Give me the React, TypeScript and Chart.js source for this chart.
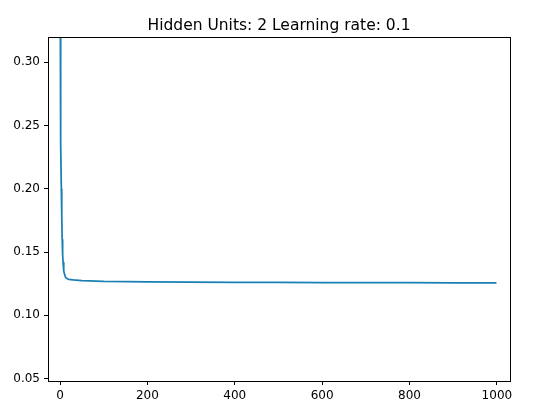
import React, { useEffect, useRef } from "react";
import { Chart, registerables } from "chart.js";

Chart.register(...registerables);

const titleText = "Hidden Units: 2 Learning rate: 0.1";
const epochs = [0, 1, 2, 3, 4, 5, 6, 7, 8, 9, 10, 12, 14, 17, 20, 30, 50, 100, 200, 300, 400, 500, 600, 700, 800, 900, 999];
const loss = [0.42, 0.29, 0.235, 0.2, 0.178, 0.16, 0.148, 0.142, 0.138, 0.135, 0.133, 0.1305, 0.1295, 0.1288, 0.1284, 0.1279, 0.1274, 0.1268, 0.1264, 0.1262, 0.126, 0.1259, 0.1258, 0.1257, 0.1257, 0.1256, 0.1256];
const yTicks = [0.05, 0.1, 0.15, 0.2, 0.25, 0.3];
const xTicks = [0, 200, 400, 600, 800, 1000];

const FONT = "'DejaVu Sans', sans-serif";

export default function App() {
  const ref = useRef<HTMLCanvasElement | null>(null);
  useEffect(() => {
    if (!ref.current) return;
    const framePlugin = {
      id: "frame",
      afterDraw(chart: any) {
        const { ctx, chartArea } = chart;
        ctx.save();
        ctx.strokeStyle = "#000";
        ctx.lineWidth = 1;
        ctx.strokeRect(
          Math.round(chartArea.left) + 0.5,
          Math.round(chartArea.top) + 0.5,
          Math.round(chartArea.right - chartArea.left),
          Math.round(chartArea.bottom - chartArea.top)
        );
        ctx.fillStyle = "#000";
        ctx.font = `15.5px ${FONT}`;
        ctx.textAlign = "center";
        ctx.textBaseline = "alphabetic";
        ctx.fillText(titleText, (chartArea.left + chartArea.right) / 2, 29.5);
        ctx.restore();
      },
    };
    const chart = new Chart(ref.current, {
      type: "line",
      data: {
        datasets: [
          {
            data: epochs.map((e, i) => ({ x: e, y: loss[i] })),
            borderColor: "#1a80b4",
            borderWidth: 1.75,
            pointRadius: 0,
            tension: 0,
            fill: false,
            clip: 0,
          },
        ],
      },
      options: {
        animation: false,
        responsive: false,
        layout: { padding: { top: 37, right: 30, left: 0, bottom: 0 } },
        plugins: { legend: { display: false }, tooltip: { enabled: false }, title: { display: false } },
        scales: {
          x: {
            type: "linear",
            min: -27.5,
            max: 1030,
            afterBuildTicks: (s: any) => {
              s.ticks = xTicks.map((v) => ({ value: v }));
            },
            afterFit: (s: any) => {
              s.height = 36;
            },
            grid: { drawOnChartArea: false, drawTicks: true, tickLength: 4, color: "#000", lineWidth: 1 },
            border: { display: false },
            ticks: { color: "#000", font: { family: FONT, size: 12 }, padding: 4, maxRotation: 0, callback: (v: any) => String(v) },
          },
          y: {
            type: "linear",
            min: 0.048,
            max: 0.32,
            afterBuildTicks: (s: any) => {
              s.ticks = yTicks.map((v) => ({ value: v }));
            },
            afterFit: (s: any) => {
              s.width = 48;
            },
            grid: { drawOnChartArea: false, drawTicks: true, tickLength: 4, color: "#000", lineWidth: 1 },
            border: { display: false },
            ticks: { color: "#000", font: { family: FONT, size: 12 }, padding: 4, callback: (v: any) => Number(v).toFixed(2) },
          },
        },
      },
      plugins: [framePlugin],
    });
    return () => chart.destroy();
  }, []);
  return (
    <div style={{ position: "absolute", left: 0, top: 0, width: 540, height: 417, background: "#fff" }}>
      <canvas ref={ref} width={540} height={417} style={{ display: "block" }} />
    </div>
  );
}
